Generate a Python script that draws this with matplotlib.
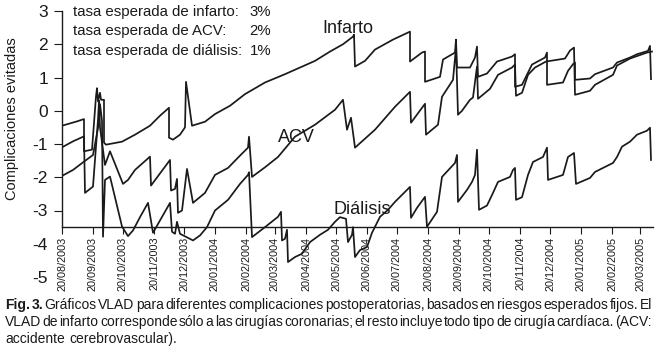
"""Gráficos VLAD para diferentes complicaciones postoperatorias.
"""

import datetime as dt
import matplotlib
matplotlib.use('Agg')
from matplotlib import pyplot as plt
import matplotlib.dates as mdates

# Fecha de inicio del seguimiento y días transcurridos para cada punto
inicio = dt.date(2003, 8, 20)

infarto_dias = [0, 15, 22, 22, 30, 34, 35, 36, 38, 39, 42, 42, 44, 60, 73, 88,
                98, 107, 107, 111, 118, 123, 124, 130, 143, 153, 168, 183, 203,
                223, 238, 253, 268, 281, 291, 292, 293, 303, 313, 331, 348, 348,
                360, 363, 363, 378, 381, 393, 394, 395, 408, 413, 415, 416, 425,
                435, 450, 453, 453, 460, 470, 483, 485, 485, 501, 506, 511, 513,
                513, 528, 533, 551, 555, 568, 575, 586, 588, 589]
infarto_vlad = [-0.45, -0.32, -0.25, -1.22, -1.17, 0.43, 0.68, 0.28, 0.54, 0.33,
                0.33, -0.96, -1.02, -0.93, -0.72, -0.45, -0.15, 0.09, -0.81,
                -0.87, -0.72, -0.5, 0.87, -0.45, -0.33, -0.1, 0.15, 0.5, 0.85,
                1.1, 1.3, 1.5, 1.78, 2.0, 2.23, 2.29, 1.33, 1.5, 1.84, 2.14,
                2.38, 1.48, 1.75, 1.78, 0.87, 1.02, 1.54, 1.75, 2.14, 1.3, 1.3,
                1.6, 1.93, 1.02, 1.12, 1.48, 1.63, 1.7, 0.72, 0.78, 1.39, 1.6,
                1.75, 0.78, 0.85, 1.2, 1.4, 1.45, 0.93, 0.97, 1.1, 1.3, 1.45,
                1.6, 1.7, 1.8, 1.95, 0.95]

acv_dias = [0, 11, 22, 23, 31, 36, 37, 38, 43, 48, 61, 66, 73, 88, 89, 108,
            109, 113, 115, 116, 120, 125, 131, 143, 153, 166, 178, 186, 187,
            190, 203, 216, 233, 253, 273, 281, 285, 289, 293, 313, 333, 348,
            349, 363, 364, 376, 380, 391, 394, 396, 400, 408, 411, 415, 416,
            428, 436, 450, 453, 454, 460, 466, 473, 484, 503, 508, 512, 513,
            528, 533, 551, 555, 568, 585, 590]
acv_vlad = [-1.1, -0.92, -0.77, -2.47, -2.28, -0.27, 0.3, -0.5, -1.63, -1.22,
            -2.2, -2.08, -1.78, -1.38, -2.25, -1.48, -2.4, -2.35, -2.05, -3.07,
            -3.0, -1.75, -2.77, -2.47, -1.93, -1.72, -1.35, -1.11, -0.78, -1.99,
            -1.7, -1.39, -0.78, -0.42, 0.03, 0.33, -0.57, -0.21, -1.11, -0.57,
            0.12, 0.57, -0.36, 0.21, -0.72, -0.42, 0.42, 0.93, 1.9, -0.12, 0.0,
            0.33, 0.4, 1.33, 0.36, 0.66, 1.08, 1.3, 1.39, 0.45, 0.54, 1.08, 1.3,
            1.48, 1.57, 1.81, 1.9, 0.48, 0.6, 0.78, 1.08, 1.36, 1.57, 1.75,
            1.78]

dialisis_dias = [0, 11, 22, 31, 37, 38, 40, 41, 43, 48, 60, 66, 71, 78, 86, 91,
                 108, 110, 113, 115, 118, 131, 138, 145, 153, 166, 178, 186,
                 187, 190, 203, 216, 219, 220, 223, 225, 226, 233, 240, 248,
                 258, 266, 273, 278, 284, 286, 290, 291, 293, 298, 305, 310,
                 318, 326, 333, 348, 349, 355, 363, 365, 375, 380, 393, 395,
                 396, 405, 410, 413, 415, 417, 425, 431, 436, 448, 451, 453,
                 454, 460, 466, 471, 481, 485, 486, 501, 506, 512, 514, 528,
                 533, 551, 555, 560, 568, 575, 585, 588, 589]
dialisis_vlad = [-1.96, -1.78, -1.53, -1.33, -0.36, 0.2, -0.3, -3.79, -2.08,
                 -1.98, -3.48, -3.77, -3.6, -3.2, -2.77, -3.67, -2.77, -3.64,
                 -3.7, -3.34, -3.7, -3.9, -3.75, -3.5, -3.0, -2.68, -2.2, -1.93,
                 -1.85, -3.8, -3.5, -3.19, -3.04, -3.9, -3.85, -3.58, -4.55,
                 -4.4, -4.3, -3.95, -3.73, -3.58, -3.34, -3.2, -3.25, -3.95,
                 -3.73, -3.5, -4.4, -4.19, -4.1, -3.67, -3.19, -2.98, -2.74,
                 -2.29, -3.22, -2.92, -2.59, -3.49, -3.04, -1.99, -1.57, -1.33,
                 -2.74, -2.38, -2.14, -1.93, -1.17, -2.98, -2.85, -2.47, -2.14,
                 -1.99, -1.78, -1.72, -2.68, -2.6, -1.93, -1.54, -1.39, -1.11,
                 -2.08, -1.93, -1.39, -1.27, -2.2, -2.02, -1.84, -1.57, -1.39,
                 -1.08, -0.93, -0.72, -0.6, -0.51, -1.48]

tasas = ['tasa esperada de infarto:', 'tasa esperada de ACV:',
         'tasa esperada de diálisis:']
tasas_pct = ['3%', '2%', '1%']

pie = [
    'Fig. 3. Gráficos VLAD para diferentes complicaciones postoperatorias, '
    'basados en riesgos esperados fijos. El',
    'VLAD de infarto corresponde sólo a las cirugías coronarias; el resto '
    'incluye todo tipo de cirugía cardíaca. (ACV:',
    'accidente cerebrovascular).',
]


def fechas(dias):
    return [inicio + dt.timedelta(days=d) for d in dias]


plt.rcParams['font.family'] = ['Liberation Sans', 'DejaVu Sans']
plt.rcParams['axes.unicode_minus'] = False
tinta = '#1a1a1a'

fig = plt.figure(figsize=(6.57, 3.57), dpi=100)
ax = fig.add_axes([62 / 657, 80 / 357, 591 / 657, 266 / 357])

for dias, vlad in [(infarto_dias, infarto_vlad), (acv_dias, acv_vlad),
                   (dialisis_dias, dialisis_vlad)]:
    ax.plot(fechas(dias), vlad, color=tinta, linewidth=1.25)

ax.set_ylim(-5, 3)
ax.set_xlim(inicio, inicio + dt.timedelta(days=591))
ax.set_yticks(range(-5, 4))
ax.spines['top'].set_visible(False)
ax.spines['right'].set_visible(False)
ax.spines['bottom'].set_position(('data', -3.5))
ax.spines['left'].set_bounds(-3.5, 3)
for s in ('left', 'bottom'):
    ax.spines[s].set_color(tinta)
    ax.spines[s].set_linewidth(1.0)

ax.xaxis.set_major_locator(mdates.MonthLocator(bymonthday=20))
ax.xaxis.set_major_formatter(mdates.DateFormatter('%d/%m/%Y'))
ax.tick_params(axis='x', length=5, pad=2, labelsize=7.8, labelrotation=90,
               colors=tinta)
ax.tick_params(axis='y', length=6, pad=4, labelsize=12.5, colors=tinta)
# sin marcas en -5 y -4 (por debajo del eje x)
for t in ax.yaxis.get_major_ticks()[:2]:
    t.tick1line.set_visible(False)

ax.set_ylabel('Complicaciones evitadas', fontsize=10.5, color=tinta)
ax.yaxis.set_label_coords(-0.072, 0.595)

# Tasas esperadas (arriba a la izquierda)
for i, (t, p) in enumerate(zip(tasas, tasas_pct)):
    yy = 0.996 - i * 0.073
    ax.text(0.019, yy, t, transform=ax.transAxes, fontsize=10.8, va='center',
            color=tinta)
    ax.text(0.354, yy, p, transform=ax.transAxes, fontsize=10.8, va='center',
            ha='right', color=tinta)

# Rótulos de cada serie
ax.text(0.484, 0.936, 'Infarto', transform=ax.transAxes, fontsize=13,
        ha='center', va='center', color=tinta)
ax.text(0.396, 0.526, 'ACV', transform=ax.transAxes, fontsize=13,
        ha='center', va='center', color=tinta)
ax.text(0.508, 0.252, 'Diálisis', transform=ax.transAxes, fontsize=13,
        ha='center', va='center', color=tinta)

# Pie de figura justificado
fuente_pie = ['Liberation Sans Narrow', 'Liberation Sans']
renderer = fig.canvas.get_renderer()
for n, (linea, yy) in enumerate(zip(pie, [305, 322, 339])):
    palabras = linea.split(' ')
    textos = []
    for k, p in enumerate(palabras):
        negrita = n == 0 and k < 2
        textos.append(fig.text(0, 1 - yy / 357, p, fontsize=10,
                               family=fuente_pie, va='center', color=tinta,
                               weight='bold' if negrita else 'normal'))
    anchos = [t.get_window_extent(renderer).width for t in textos]
    if n < 2:
        hueco = (652 - 5 - sum(anchos)) / (len(textos) - 1)
    else:
        hueco = 5
    x = 5
    for t, w in zip(textos, anchos):
        t.set_x(x / 657)
        x += w + hueco

fig.savefig('out.png', dpi=100)
